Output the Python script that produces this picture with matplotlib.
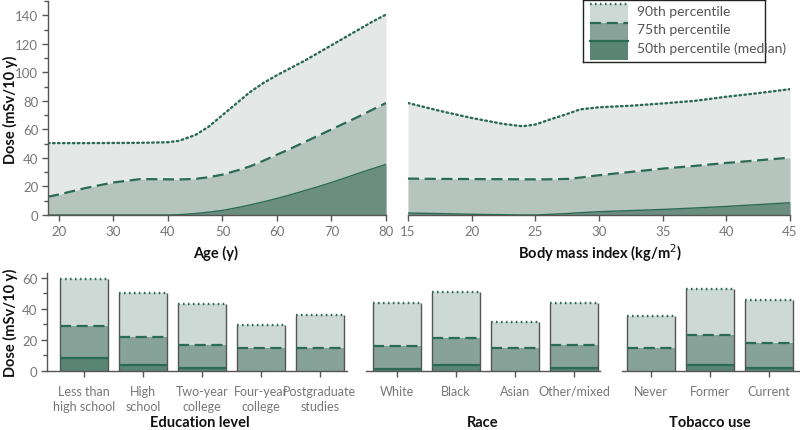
import matplotlib
matplotlib.use("Agg")
import matplotlib.pyplot as plt
import numpy as np
from matplotlib.patches import Rectangle
from matplotlib.ticker import MultipleLocator

plt.rcParams['font.family'] = ['Lato', 'DejaVu Sans']

# ---------------- data ----------------
age = [18, 20, 25, 30, 35, 40, 42, 45, 47.5, 50, 52.5, 55, 57.5, 60, 62.5, 65, 67.5, 70, 72.5, 75, 77.5, 80]
age_p90 = [50.4, 50.4, 50.4, 50.5, 50.6, 51, 52, 56, 62, 70, 78, 86, 92.5, 98, 103, 108, 113.5, 119, 124.5, 130, 135.5, 140.5]
age_p75 = [12.8, 14.4, 19, 22.8, 25.2, 25, 24.9, 25.3, 26.5, 28.3, 31, 34, 38, 42.3, 46.5, 51, 55.5, 60, 64.5, 69, 73.8, 78.5]
age_p50 = [0, 0, 0, 0, 0, 0, 0.2, 1, 2, 3.2, 5, 7, 9.2, 11.6, 14.2, 17, 19.8, 22.8, 26, 29.3, 32.4, 35.5]

bmi = [15, 17.5, 20, 22.5, 24, 25, 26, 27.5, 28.5, 30, 32.5, 35, 37.5, 40, 42.5, 45]
bmi_p90 = [78.5, 73, 68, 63.8, 62.2, 63.4, 66.5, 70.8, 74, 75.5, 76.6, 78.2, 80, 82.9, 85.4, 88.2]
bmi_p75 = [25.5, 25.3, 25.2, 25.1, 25, 25, 25, 25.3, 26.2, 27.9, 30.2, 32.5, 34.4, 36.5, 38.3, 40.2]
bmi_p50 = [1.4, 1.0, 0.5, 0.2, 0, 0, 0.4, 1.0, 1.6, 2.3, 3.1, 3.9, 4.9, 6.0, 7.3, 8.6]

edu_cats = ["Less than\nhigh school", "High\nschool", "Two-year\ncollege", "Four-year\ncollege", "Postgraduate\nstudies"]
edu_p90 = [59.4, 50.3, 43, 29.7, 36]
edu_p75 = [29.2, 22, 16.8, 15, 15]
edu_p50 = [8.2, 3.9, 2, 0, 0]

race_cats = ["White", "Black", "Asian", "Other/mixed"]
race_p90 = [43.7, 50.8, 31.4, 43.7]
race_p75 = [16, 21, 14.8, 16.8]
race_p50 = [1, 3.9, 0, 2]

tob_cats = ["Never", "Former", "Current"]
tob_p90 = [35.3, 52.5, 45.4]
tob_p75 = [15, 23.2, 18]
tob_p50 = [0, 3.9, 2]

legend_labels = ["90th percentile", "75th percentile", "50th percentile (median)"]

# ---------------- styles ----------------
LINE = '#2b6a56'
TOP90, TOP75, TOP50 = '#e4e9e7', '#b5c5be', '#6b8e81'
BAR90, BAR75, BAR50 = '#cdd9d5', '#86a299', '#5a8474'
SPINE = '#555555'
TICKC = '#777777'
W, H = 800, 431

fig = plt.figure(figsize=(8, 4.31), dpi=100)


def ax_px(left, right, top, bottom):
    return fig.add_axes([left / W, 1 - bottom / H, (right - left) / W, (bottom - top) / H])


def style_axis(ax, left_spine=True, size=9.5):
    for s in ['top', 'right']:
        ax.spines[s].set_visible(False)
    ax.spines['bottom'].set_color(SPINE)
    ax.spines['bottom'].set_linewidth(1.0)
    if left_spine:
        ax.spines['left'].set_color(SPINE)
        ax.spines['left'].set_linewidth(1.0)
    else:
        ax.spines['left'].set_visible(False)
        ax.set_yticks([])
        ax.tick_params(axis='y', which='both', left=False, labelleft=False)
    ax.tick_params(axis='both', which='major', length=4, width=1, color=SPINE,
                   labelcolor=TICKC, labelsize=size, pad=3)
    ax.tick_params(axis='both', which='minor', length=3, width=1, color=SPINE)
    ax.set_facecolor('none')


def area_panel(ax, x, p90, p75, p50):
    ax.fill_between(x, 0, p90, color=TOP90, lw=0)
    ax.fill_between(x, 0, p75, color=TOP75, lw=0)
    ax.fill_between(x, 0, p50, color=TOP50, lw=0)
    ax.plot(x, p90, color=LINE, lw=1.7, ls=(0, (0.7, 1.4)), dash_capstyle='round')
    ax.plot(x, p75, color=LINE, lw=1.6, ls=(0, (5, 2.5)))
    ax.plot(x, p50, color=LINE, lw=1.0)
    ax.set_ylim(0, 150)


# top-left: age
ax1 = ax_px(48, 386, 2, 216)
area_panel(ax1, age, age_p90, age_p75, age_p50)
ax1.set_xlim(18, 80)
ax1.set_xticks(np.arange(20, 81, 10))
ax1.set_yticks(np.arange(0, 141, 20))
ax1.yaxis.set_minor_locator(MultipleLocator(10))
style_axis(ax1)

# top-right: BMI
ax2 = ax_px(408, 790, 2, 216)
area_panel(ax2, bmi, bmi_p90, bmi_p75, bmi_p50)
ax2.set_xlim(15, 45)
ax2.set_xticks(np.arange(15, 46, 5))
style_axis(ax2, left_spine=False)

BW = 0.81


def bar_panel(ax, cats, p90, p75, p50):
    xs = np.arange(len(cats))
    ax.bar(xs, p90, width=BW, color=BAR90, lw=0)
    ax.bar(xs, p75, width=BW, color=BAR75, lw=0)
    ax.bar(xs, p50, width=BW, color=BAR50, lw=0)
    ax.vlines(xs - BW / 2, 0, p90, color=SPINE, lw=1.0)
    ax.vlines(xs + BW / 2, 0, p90, color=SPINE, lw=1.0)
    ax.hlines(p90, xs - BW / 2, xs + BW / 2, color=LINE, lw=1.7, linestyles=[(0, (0.7, 1.4))])
    ax.hlines(p75, xs - BW / 2, xs + BW / 2, color=LINE, lw=1.6, linestyles=[(0, (5, 2.5))])
    for xi, v in zip(xs, p50):
        if v > 0:
            ax.hlines(v, xi - BW / 2, xi + BW / 2, color=LINE, lw=1.6)
    ax.set_xticks(xs)
    ax.set_xticklabels(cats, linespacing=1.3)
    ax.set_ylim(0, 63)


ax3 = ax_px(47, 347, 274, 372)
bar_panel(ax3, edu_cats, edu_p90, edu_p75, edu_p50)
ax3.set_xlim(-0.63, 4.46)
ax3.set_yticks([0, 20, 40, 60])
ax3.yaxis.set_minor_locator(MultipleLocator(10))
style_axis(ax3, size=9)

ax4 = ax_px(366, 600, 274, 372)
bar_panel(ax4, race_cats, race_p90, race_p75, race_p50)
ax4.set_xlim(-0.53, 3.44)
style_axis(ax4, left_spine=False, size=9)

ax5 = ax_px(622, 800, 274, 372)
bar_panel(ax5, tob_cats, tob_p90, tob_p75, tob_p50)
ax5.set_xlim(-0.49, 2.53)
style_axis(ax5, left_spine=False, size=9)

for ax in (ax3, ax4, ax5):
    ax.tick_params(axis='x', pad=6)
ax3.tick_params(axis='y', labelsize=9.5)

# axis titles
bold = dict(fontsize=10.5, fontweight='bold', color='#111111', ha='center', va='center')
fig.text(216 / W, 1 - 253 / H, "Age (y)", **bold)
fig.text(600 / W, 1 - 253 / H, "Body mass index (kg/m$^2$)", **bold)
fig.text(200 / W, 1 - 423 / H, "Education level", **bold)
fig.text(483 / W, 1 - 423 / H, "Race", **bold)
fig.text(710 / W, 1 - 423 / H, "Tobacco use", **bold)
fig.text(10 / W, 1 - 110 / H, "Dose (mSv/10 y)", rotation=90, **bold)
fig.text(10 / W, 1 - 323 / H, "Dose (mSv/10 y)", rotation=90, **bold)

# legend (drawn in its own axes, pixel-like coordinates)
lg = ax_px(583, 765, 1, 63)
lg.set_xlim(0, 182)
lg.set_ylim(62, 0)
lg.set_xticks([])
lg.set_yticks([])
for s in lg.spines.values():
    s.set_color('#222222')
    s.set_linewidth(1.0)
fills = [BAR90, BAR75, BAR50]
styles = [(0, (0.7, 1.4)), (0, (5, 2.5)), '-']
widths = [1.7, 1.6, 1.6]
for i, lab in enumerate(legend_labels):
    y0 = 4 + i * 18.5
    lg.add_patch(Rectangle((7, y0), 38, 18.5, color=fills[i], lw=0))
    lg.plot([7, 45], [y0, y0], color=LINE, lw=widths[i], ls=styles[i])
    lg.text(54, y0 + 6.5, lab, fontsize=10, color='#555555', va='center', ha='left')

fig.savefig("out.png", dpi=100)
